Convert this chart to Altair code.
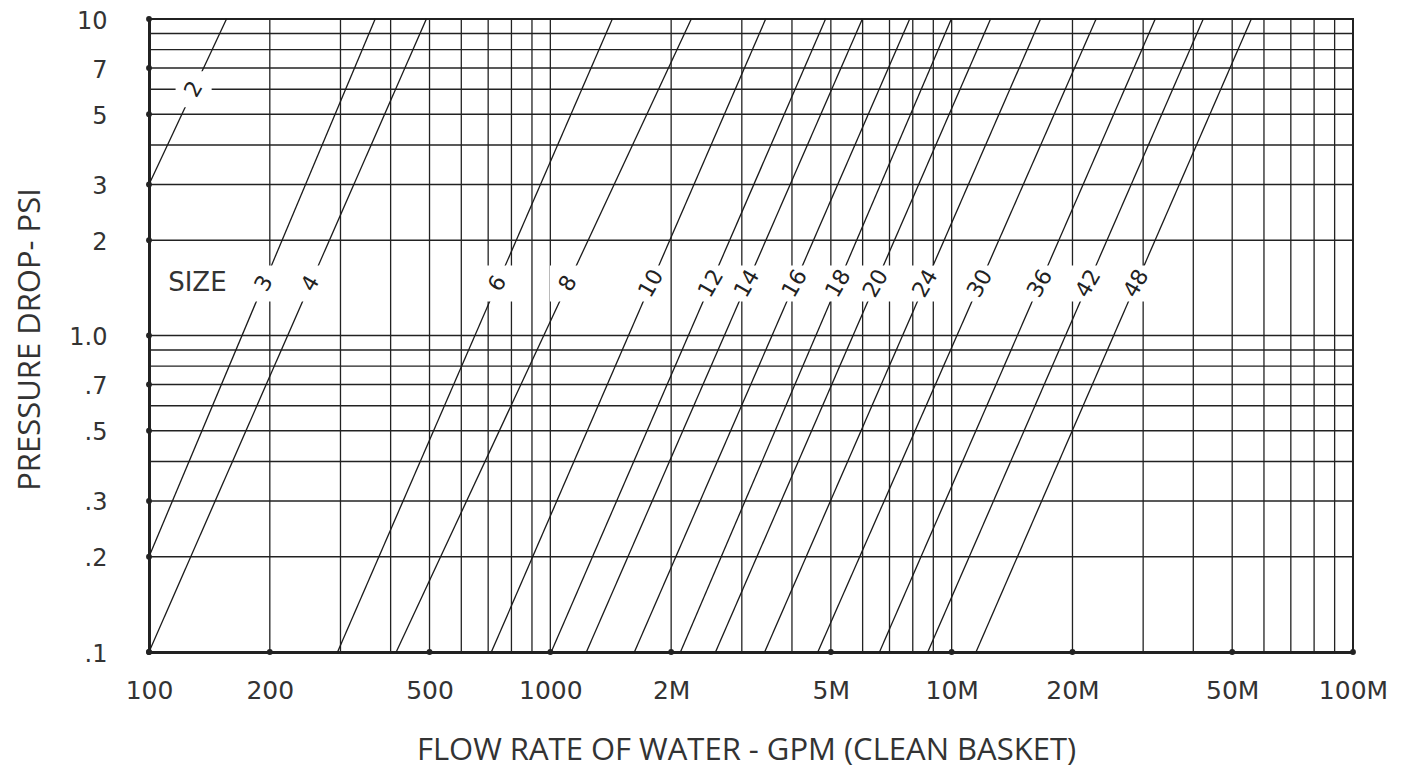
import altair as alt
import pandas as pd
import numpy as np

# ---- data ----
sizes = ["2", "3", "4", "6", "8", "10", "12", "14", "16", "18", "20", "24", "30", "36", "42", "48"]
start_flow = [100, 100, 100, 295, 413, 713, 1005, 1230, 1620, 2110, 2580, 3420, 4640, 6610, 8720, 11500]
start_psi = [3, 0.2, 0.1, 0.1, 0.1, 0.1, 0.1, 0.1, 0.1, 0.1, 0.1, 0.1, 0.1, 0.1, 0.1, 0.1]
end_flow = [156, 366, 491, 1427, 2245, 3440, 4850, 5990, 7860, 9980, 12500, 16650, 22900, 32150, 42350, 55800]
end_psi = [10, 10, 10, 10, 10, 10, 10, 10, 10, 10, 10, 10, 10, 10, 10, 10]
label_psi = [6, 1.46, 1.46, 1.46, 1.46, 1.46, 1.46, 1.46, 1.46, 1.46, 1.46, 1.46, 1.46, 1.46, 1.46, 1.46]

x_grid = [100, 200, 300, 400, 500, 600, 700, 800, 900,
          1000, 2000, 3000, 4000, 5000, 6000, 7000, 8000, 9000,
          10000, 20000, 30000, 40000, 50000, 60000, 70000, 80000, 90000, 100000]
y_grid = [0.1, 0.2, 0.3, 0.4, 0.5, 0.6, 0.7, 0.8, 0.9,
          1, 2, 3, 4, 5, 6, 7, 8, 9, 10]

x_tick_values = [100, 200, 500, 1000, 2000, 5000, 10000, 20000, 50000, 100000]
x_tick_labels = ["100", "200", "500", "1000", "2M", "5M", "10M", "20M", "50M", "100M"]
y_tick_values = [10, 7, 5, 3, 2, 1, 0.7, 0.5, 0.3, 0.2, 0.1]
y_tick_labels = ["10", "7", "5", "3", "2", "1.0", ".7", ".5", ".3", ".2", ".1"]

size_word = ["SIZE"]
size_word_flow = [132]
size_word_psi = [1.46]

# ---- tables ----
rows = []
for s, sf, sp, ef, ep in zip(sizes, start_flow, start_psi, end_flow, end_psi):
    rows.append({"size": s, "pt": 0, "flow": sf, "psi": sp})
    rows.append({"size": s, "pt": 1, "flow": ef, "psi": ep})
lines_df = pd.DataFrame(rows)

lab = []
for s, sf, sp, ef, ep, lp in zip(sizes, start_flow, start_psi, end_flow, end_psi, label_psi):
    t = (np.log10(lp) - np.log10(sp)) / (np.log10(ep) - np.log10(sp))
    lf = 10 ** (np.log10(sf) + t * (np.log10(ef) - np.log10(sf)))
    lab.append({"size": s, "flow": lf, "psi": lp})
labels_df = pd.DataFrame(lab)

vgrid_df = pd.DataFrame({"flow": x_grid})
hgrid_df = pd.DataFrame({"psi": y_grid})
xdots_df = pd.DataFrame({"flow": x_tick_values, "psi": [0.1] * len(x_tick_values)})
ydots_df = pd.DataFrame({"flow": [100] * len(y_tick_values), "psi": y_tick_values})
size_df = pd.DataFrame({"flow": size_word_flow, "psi": size_word_psi, "txt": size_word})


def lookup_expr(values, labels):
    return "[" + ",".join("'%s'" % l for l in labels) + "][indexof([" + \
        ",".join(repr(v) for v in values) + "], datum.value)]"


INK = "#222222"
TXT = "#333333"

X = alt.X(
    "flow:Q",
    scale=alt.Scale(type="log", domain=[100, 100000], nice=False),
    axis=alt.Axis(
        values=x_tick_values,
        labelExpr=lookup_expr(x_tick_values, x_tick_labels),
        ticks=False, grid=False,
        domain=True, domainWidth=3, domainColor=INK,
        labelFont="DejaVu Sans", labelFontSize=25, labelColor=TXT,
        labelPadding=26, labelFlush=False, labelOverlap=False,
        title="FLOW RATE OF WATER - GPM (CLEAN BASKET)",
        titleFont="Open Sans", titleFontSize=31, titleFontWeight="normal",
        titleColor=TXT, titleX=597, titleY=107,
        titleAlign="center", titleBaseline="alphabetic",
    ),
)
Y = alt.Y(
    "psi:Q",
    scale=alt.Scale(type="log", domain=[0.1, 10], nice=False),
    axis=alt.Axis(
        values=y_tick_values,
        labelExpr=lookup_expr(y_tick_values, y_tick_labels),
        ticks=False, grid=False,
        domain=True, domainWidth=3, domainColor=INK,
        labelFont="DejaVu Sans", labelFontSize=24, labelColor=TXT,
        labelPadding=42, labelFlush=False, labelOverlap=False,
        labelBaseline="middle", labelAlign="right", labelOffset=2,
        title="PRESSURE DROP- PSI",
        titleFont="Open Sans", titleFontSize=31, titleFontWeight="normal",
        titleColor=TXT, titleAngle=270, titleX=-110, titleY=320,
        titleAlign="center", titleBaseline="alphabetic",
    ),
)

vgrid = alt.Chart(vgrid_df).mark_rule(color=INK, strokeWidth=1.3).encode(x=X)
hgrid = alt.Chart(hgrid_df).mark_rule(color=INK, strokeWidth=1.4).encode(y=Y)

curves = alt.Chart(lines_df).mark_line(color="#1a1a1a", strokeWidth=1.3).encode(
    x=X, y=Y, detail="size:N", order="pt:Q"
)

boxes = alt.Chart(labels_df).mark_square(
    size=1300, color="white", opacity=1, filled=True, strokeWidth=0
).encode(x=X, y=Y)

texts = alt.Chart(labels_df).mark_text(
    angle=300, font="DejaVu Sans", fontSize=22, color=INK,
    align="center", baseline="middle"
).encode(x=X, y=Y, text="size:N")

size_text = alt.Chart(size_df).mark_text(
    font="DejaVu Sans", fontSize=26, color=TXT, align="center", baseline="middle"
).encode(x=X, y=Y, text="txt:N")

xdots = alt.Chart(xdots_df).mark_circle(size=34, color=INK, opacity=1).encode(x=X, y=Y)
ydots = alt.Chart(ydots_df).mark_circle(size=34, color=INK, opacity=1).encode(x=X, y=Y)

chart = alt.layer(
    vgrid, hgrid, curves, boxes, texts, size_text, xdots, ydots
).properties(
    width=1204, height=633,
    autosize=alt.AutoSizeParams(type="none"),
    padding={"left": 141, "top": 11, "right": 50, "bottom": 126},
    background="white",
).configure_view(stroke=INK, strokeWidth=2)

chart.save("out.html", embed_options={"renderer": "svg", "actions": False})
